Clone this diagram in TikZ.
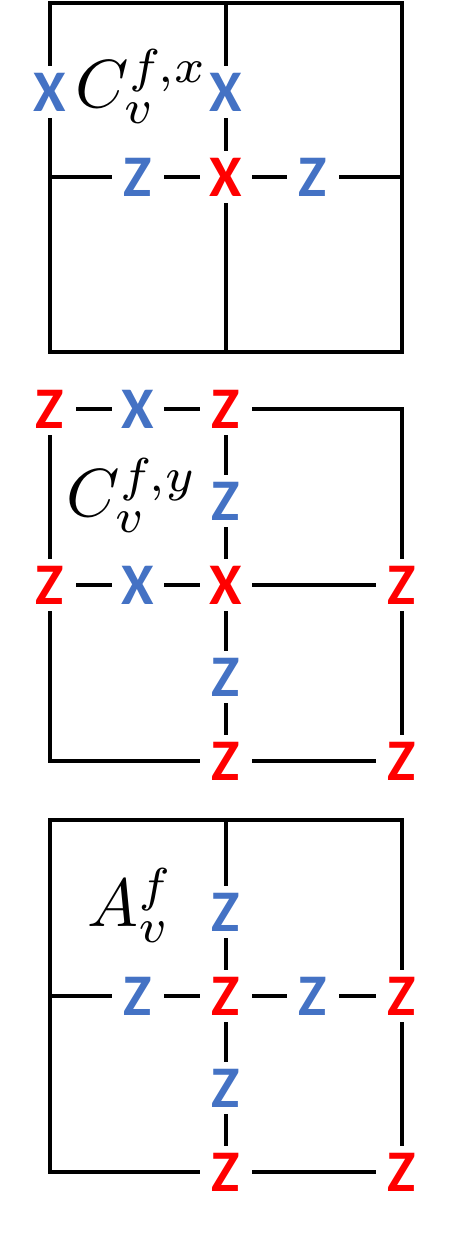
\RequirePackage{fix-cm}
\documentclass[tikz,border=0pt]{standalone}
\usepackage{fontspec}
\newfontfamily\letterfont{Carlito}
\definecolor{qblue}{HTML}{4472C4}
\definecolor{qred}{HTML}{FF0000}
\tikzset{
  lett/.style={font=\letterfont\bfseries\fontsize{59}{59}\selectfont, inner sep=0pt,
    minimum width=52pt, minimum height=52pt},
  bx/.style={lett, text=qblue},
  rx/.style={lett, text=qred},
  mlabel/.style={anchor=base west, inner sep=0pt, font=\fontsize{10}{12}\selectfont, scale=6.8},
  edge/.style={line width=3.2pt, black}
}
\begin{document}
\begin{tikzpicture}[x=1pt,y=-1pt]
\useasboundingbox (0,0) rectangle (450,1237);

% ---------- Panel 1 ----------
\coordinate (a-tl) at (50,3);
\coordinate (a-tm) at (226,3);
\coordinate (a-tr) at (402,3);
\coordinate (a-ml) at (50,177);
\coordinate (a-mr) at (402,177);
\coordinate (a-bl) at (50,352);
\coordinate (a-bm) at (226,352);
\coordinate (a-br) at (402,352);
\node[bx] (a-x1) at (50,92) {X};
\node[bx] (a-x2) at (226,92) {X};
\node[bx] (a-z1) at (138,177) {Z};
\node[rx] (a-x3) at (226,177) {X};
\node[bx] (a-z2) at (313,177) {Z};
\draw[edge] (a-x1) -- (a-tl) -- (a-tr) -- (a-br) -- (a-bl) -- (a-x1);
\draw[edge] (a-tm) -- (a-x2) -- (a-x3) -- (a-bm);
\draw[edge] (a-ml) -- (a-z1) -- (a-x3) -- (a-z2) -- (a-mr);
\node[mlabel] (a-lab) at (74,107) {$C_v^{f,x}$};

% ---------- Panel 2 ----------
\coordinate (b-tr) at (402,409);
\coordinate (b-bl) at (50,761);
\node[rx] (b-z1) at (50,409) {Z};
\node[bx] (b-x1) at (138,409) {X};
\node[rx] (b-z2) at (226,409) {Z};
\node[bx] (b-z3) at (226,501) {Z};
\node[rx] (b-z4) at (50,585) {Z};
\node[bx] (b-x2) at (138,585) {X};
\node[rx] (b-x3) at (226,585) {X};
\node[rx] (b-z5) at (402,585) {Z};
\node[bx] (b-z6) at (226,677) {Z};
\node[rx] (b-z7) at (226,761) {Z};
\node[rx] (b-z8) at (402,761) {Z};
\draw[edge] (b-z1) -- (b-x1) -- (b-z2) -- (b-tr) -- (b-z5) -- (b-z8) -- (b-z7) -- (b-bl) -- (b-z4) -- (b-z1);
\draw[edge] (b-z4) -- (b-x2) -- (b-x3) -- (b-z5);
\draw[edge] (b-z2) -- (b-z3) -- (b-x3) -- (b-z6) -- (b-z7);
\node[mlabel] (b-lab) at (65,516) {$C_v^{f,y}$};

% ---------- Panel 3 ----------
\coordinate (c-tl) at (50,820);
\coordinate (c-tm) at (226,820);
\coordinate (c-tr) at (402,820);
\coordinate (c-ml) at (50,996);
\coordinate (c-bl) at (50,1172);
\node[bx] (c-z1) at (226,912) {Z};
\node[bx] (c-z2) at (138,996) {Z};
\node[rx] (c-z3) at (226,996) {Z};
\node[bx] (c-z4) at (313,996) {Z};
\node[rx] (c-z5) at (402,996) {Z};
\node[bx] (c-z6) at (226,1088) {Z};
\node[rx] (c-z7) at (226,1172) {Z};
\node[rx] (c-z8) at (402,1172) {Z};
\draw[edge] (c-z7) -- (c-bl) -- (c-tl) -- (c-tr) -- (c-z5) -- (c-z8) -- (c-z7);
\draw[edge] (c-tm) -- (c-z1) -- (c-z3) -- (c-z6) -- (c-z7);
\draw[edge] (c-ml) -- (c-z2) -- (c-z3) -- (c-z4) -- (c-z5);
\node[mlabel] (c-lab) at (86,926) {$A_v^f$};
\end{tikzpicture}
\end{document}
